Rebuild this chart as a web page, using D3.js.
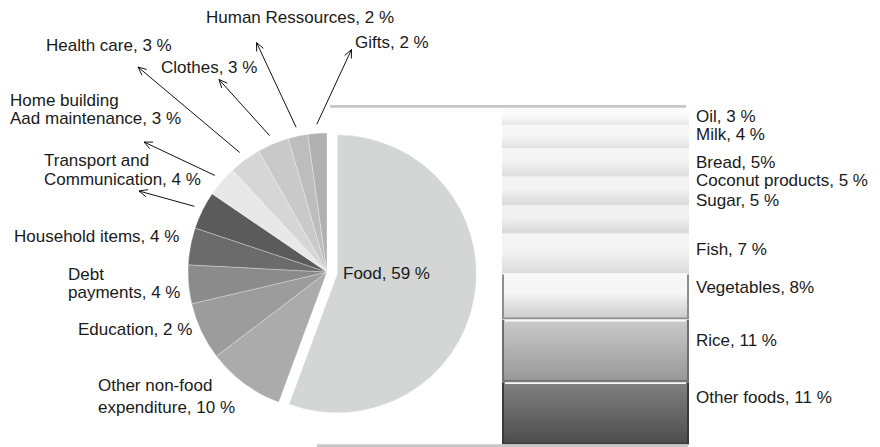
<!DOCTYPE html>
<html><head><meta charset="utf-8">
<script src="https://cdn.jsdelivr.net/npm/d3@7"></script>
<style>
html,body{margin:0;padding:0;background:#fff;}
svg{display:block;font-family:"Liberation Sans",Arial,Helvetica,sans-serif;}
</style></head><body>
<svg id="chart" width="880" height="447"></svg>
<script>
// ---------- DATA ----------
const pieCategories = ["Food","Other non-food expenditure","Education","Debt payments","Household items","Transport and Communication","Home building Aad maintenance","Health care","Clothes","Human Ressources","Gifts"];
const pieValues = [55.7, 9.0, 6.7, 4.5, 4.3, 4.4, 3.6, 3.7, 3.7, 2.3, 2.2];
const pieLabelLines = [
  ["Food, 59 %"],
  ["Other non-food","expenditure, 10 %"],
  ["Education, 2 %"],
  ["Debt","payments, 4 %"],
  ["Household items, 4 %"],
  ["Transport and","Communication, 4 %"],
  ["Home building","Aad maintenance, 3 %"],
  ["Health care, 3 %"],
  ["Clothes, 3 %"],
  ["Human Ressources, 2 %"],
  ["Gifts, 2 %"]
];
const foodCategories = ["Oil","Milk","Bread","Coconut products","Sugar","Fish","Vegetables","Rice","Other foods"];
const foodValues = [3, 4, 5, 5, 5, 7, 8, 11, 11];
const foodLabels = ["Oil, 3 %","Milk, 4 %","Bread, 5%","Coconut products, 5 %","Sugar, 5 %","Fish, 7 %","Vegetables, 8%","Rice, 11 %","Other foods, 11 %"];

// ---------- STYLE / LAYOUT ----------
const pieColors = ["#d4d5d5","#ababab","#9c9c9c","#8b8b8b","#6b6b6b","#5b5b5b","#e8e8e8","#d6d6d6","#c9c9c9","#bdbdbd","#b0b0b0"];
const barGradients = [
  ["#fbfbfb","#e7e7e7"],["#f7f7f7","#e1e1e1"],["#f5f5f5","#dddddd"],["#f3f3f3","#dadada"],
  ["#f1f1f1","#d8d8d8"],["#f4f4f4","#dbdbdb"],["#f7f7f7","#cbcbcb"],["#cbcbcb","#979797"],["#828282","#4c4c4c"]
];
const barEdges = [null,null,null,null,null,null,"#8e8e8e","#6e6e6e","#3a3a3a"];
const fontSize = 17;
const cx = 327, cy = 272, R = 139, explode = 10.5, arrowR = 148;
// hand-placed label anchors (first baseline) and arrow tips
const pieLabelLayout = [
  {x:343, y:279},
  {x:98, y:390.5, lh:22.5},
  {x:78, y:335},
  {x:68, y:279.5, lh:18.3},
  {x:14, y:241.5},
  {x:44, y:165.5, lh:19.5, tip:[139,191]},
  {x:10, y:105.5, lh:18.8, tip:[144,142]},
  {x:46, y:50.7, tip:[138,67]},
  {x:161, y:72.7, tip:[219,79.5]},
  {x:206, y:23.3, tip:[256.5,42.5]},
  {x:355, y:48.3, tip:[351.5,49.5]}
];
const barX0 = 502, barX1 = 689, barTop = 108.3, barBottom = 444.3, barLabelX = 696;
const barLabelNudge = [-1, -3, -1, -11, -19, -5, -9, -10, -16];

const svg = d3.select("#chart");
const defs = svg.append("defs");

// ---------- CONNECTOR LINES ----------
svg.append("line").attr("x1", cx + 3).attr("x2", barX1 - 3)
  .attr("y1", barTop - 2).attr("y2", barTop - 2)
  .attr("stroke", "#c6c6c6").attr("stroke-width", 2.8);

// ---------- PIE ----------
const pieGen = d3.pie().sort(null).value(d => d);
const arcs = pieGen(pieValues);
const arc = d3.arc().innerRadius(0).outerRadius(R);
const gPie = svg.append("g");
gPie.selectAll("path").data(arcs).join("path")
  .attr("transform", (d, i) => {
    if (i === 0) {
      const a = (d.startAngle + d.endAngle) / 2;
      return `translate(${cx + explode * Math.sin(a)},${cy - explode * Math.cos(a)})`;
    }
    return `translate(${cx},${cy})`;
  })
  .attr("d", arc)
  .attr("fill", (d, i) => pieColors[i])
  .attr("stroke", "#ffffff").attr("stroke-width", 0.5).attr("stroke-opacity", 0.6);

// pie labels
const gLab = svg.append("g").attr("font-size", fontSize).attr("fill", "#1a1a1a");
arcs.forEach((d, i) => {
  const L = pieLabelLayout[i];
  const t = gLab.append("text").attr("x", L.x).attr("y", L.y);
  pieLabelLines[i].forEach((line, k) => {
    t.append("tspan").attr("x", L.x).attr("y", L.y + k * (L.lh || 0)).text(line);
  });
  if (L.tip) {
    const a = (d.startAngle + d.endAngle) / 2;
    const sx = cx + arrowR * Math.sin(a), sy = cy - arrowR * Math.cos(a);
    const [tx, ty] = L.tip;
    svg.append("line").attr("x1", sx).attr("y1", sy).attr("x2", tx).attr("y2", ty)
      .attr("stroke", "#111").attr("stroke-width", 1);
    const ang = Math.atan2(sy - ty, sx - tx);
    const hl = 9, spread = 0.42;
    const p1 = [tx + hl * Math.cos(ang + spread), ty + hl * Math.sin(ang + spread)];
    const p2 = [tx + hl * Math.cos(ang - spread), ty + hl * Math.sin(ang - spread)];
    svg.append("path")
      .attr("d", `M${p1[0]},${p1[1]}L${tx},${ty}L${p2[0]},${p2[1]}`)
      .attr("fill", "none").attr("stroke", "#111").attr("stroke-width", 1);
  }
});

// ---------- STACKED BAR ----------
const total = d3.sum(foodValues);
const y = d3.scaleLinear().domain([0, total]).range([barTop, barBottom]);
let cum = 0;
const segs = foodValues.map((v, i) => { const s = {i, y0: cum, y1: cum + v}; cum += v; return s; });

segs.forEach(s => {
  const id = "g" + s.i;
  const lg = defs.append("linearGradient").attr("id", id)
    .attr("x1", 0).attr("y1", 0).attr("x2", 0).attr("y2", 1);
  lg.append("stop").attr("offset", "0%").attr("stop-color", barGradients[s.i][0]);
  if (!barEdges[s.i] || s.i === 6) {
    lg.append("stop").attr("offset", "40%").attr("stop-color", barGradients[s.i][0]);
  }
  lg.append("stop").attr("offset", "100%").attr("stop-color", barGradients[s.i][1]);
});

const gBar = svg.append("g");
segs.forEach(s => {
  const Y0 = y(s.y0), Y1 = y(s.y1);
  gBar.append("rect").attr("x", barX0).attr("y", Y0).attr("width", barX1 - barX0).attr("height", Y1 - Y0)
    .attr("fill", `url(#g${s.i})`);
  const e = barEdges[s.i];
  if (e) {
    gBar.append("line").attr("x1", barX0 + 1).attr("x2", barX0 + 1).attr("y1", Y0 + 1).attr("y2", Y1)
      .attr("stroke", e).attr("stroke-width", 2);
    gBar.append("line").attr("x1", barX1 - 1).attr("x2", barX1 - 1).attr("y1", Y0 + 1).attr("y2", Y1)
      .attr("stroke", e).attr("stroke-width", 2);
    gBar.append("line").attr("x1", barX0 + 2).attr("x2", barX1 - 2).attr("y1", Y1 - 0.8).attr("y2", Y1 - 0.8)
      .attr("stroke", e).attr("stroke-width", 1.6);
    gBar.append("line").attr("x1", barX0 + 3).attr("x2", barX1 - 3).attr("y1", Y0 + 1.5).attr("y2", Y0 + 1.5)
      .attr("stroke", "#fafafa").attr("stroke-width", 1.8);
  }
  gBar.append("text").attr("x", barLabelX)
    .attr("y", (Y0 + Y1) / 2 + fontSize * 0.36 + barLabelNudge[s.i])
    .attr("font-size", fontSize).attr("fill", "#1a1a1a")
    .text(foodLabels[s.i]);
});

svg.append("line").attr("x1", cx - 10).attr("x2", barX1 - 1)
  .attr("y1", barBottom + 1.3).attr("y2", barBottom + 1.3)
  .attr("stroke", "#c6c6c6").attr("stroke-width", 2.8);
</script>
</body></html>
